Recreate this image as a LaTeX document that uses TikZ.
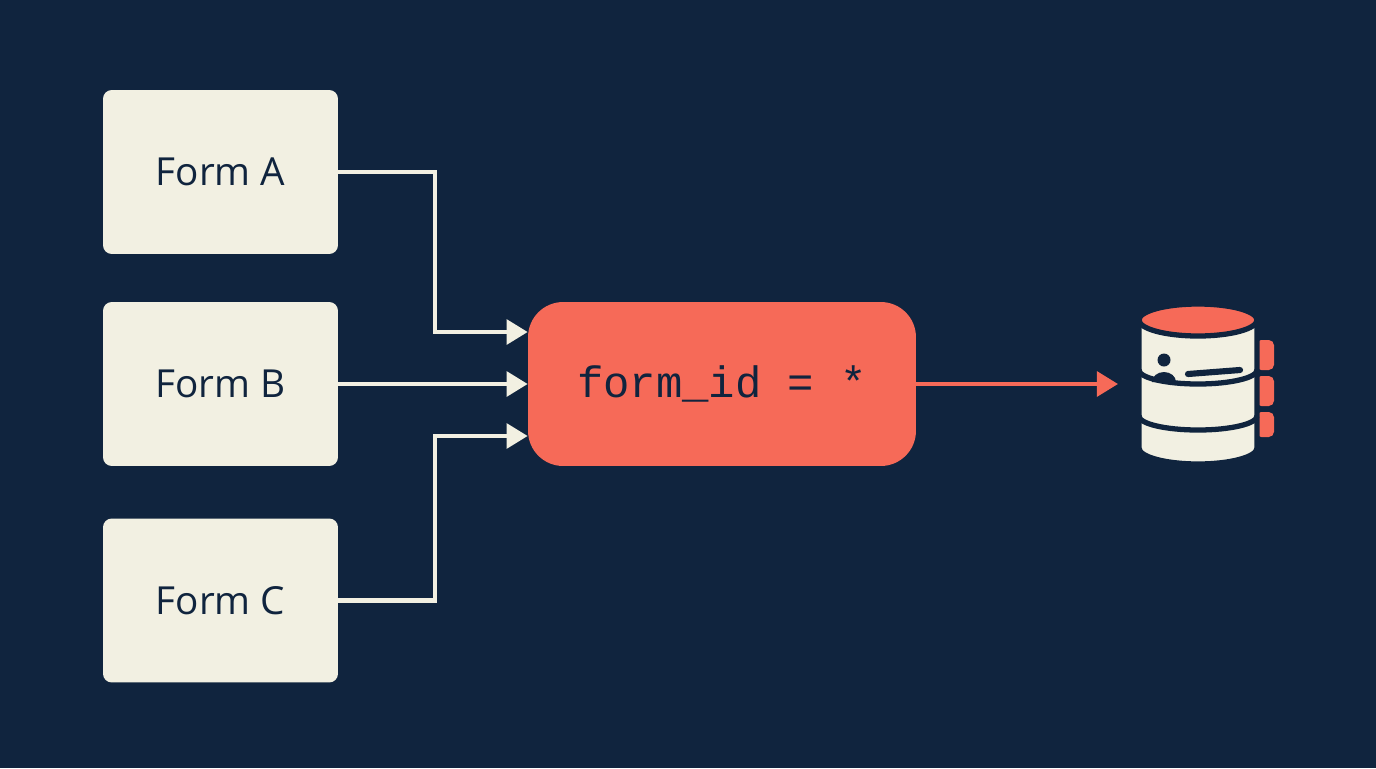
\documentclass[tikz,border=0pt]{standalone}
\usepackage{fontspec}
\setmainfont{Open Sans}
\setmonofont{Liberation Mono}
\usetikzlibrary{arrows.meta}
\definecolor{bgnavy}{RGB}{16, 36, 62}
\definecolor{cream}{RGB}{242, 240, 226}
\definecolor{coral}{RGB}{246, 106, 88}
\tikzset{
  formbox/.style={draw=none, fill=cream, rounded corners=5pt, minimum width=4.7cm, minimum height=3.28cm, text=bgnavy, font=\fontsize{22}{26}\selectfont},
  flow/.style={draw=cream, line width=2.4pt, -{Triangle[length=12pt,width=14pt]}},
  redflow/.style={draw=coral, line width=2.4pt, -{Triangle[length=12pt,width=14pt]}}
}
\begin{document}
\begin{tikzpicture}[x=0.02cm, y=-0.02cm]
\fill[bgnavy] (0,0) rectangle (1376,768);
\useasboundingbox (0,0) rectangle (1376,768);
% Forms
\node[formbox] (fa) at (220.5,172) {Form A};
\node[formbox] (fb) at (220.5,384) {Form B};
\node[formbox] (fc) at (220.5,600.5) {Form C};
% Filter
\node[fill=coral, rounded corners=20pt, minimum width=7.76cm, minimum height=3.28cm, text=bgnavy, font=\ttfamily\fontsize{25}{30}\selectfont] (flt) at (722,384) {form\_id = *};
\coordinate (dbin) at (1118,384);
% Edges
\draw[flow] (fa.east) -- (435,172) |- ([yshift=1.04cm]flt.west);
\draw[flow] (fb.east) -- (flt.west);
\draw[flow] (fc.east) -- (435,600.5) |- ([yshift=-1.04cm]flt.west);
\draw[redflow] (flt.east) -- (dbin);
% Database icon
\begin{scope}[line width=3pt]
\fill[coral, rounded corners=3pt] (1256,340) rectangle (1274,370);
\fill[coral, rounded corners=3pt] (1256,376) rectangle (1274,406);
\fill[coral, rounded corners=3pt] (1256,412) rectangle (1274,437);
\draw[bgnavy, fill=cream] (1139,320) -- (1139,448) arc[start angle=180, end angle=0, x radius=59, y radius=16] -- (1257,320);
\draw[bgnavy, fill=coral] (1198,320) ellipse[x radius=59, y radius=16];
\draw[bgnavy] (1139,370) arc[start angle=180, end angle=0, x radius=59, y radius=14];
\draw[bgnavy] (1139,416) arc[start angle=180, end angle=0, x radius=59, y radius=14];
\fill[bgnavy] (1164,360) circle (6.5);
\fill[bgnavy] (1152,382) arc[start angle=180, end angle=360, x radius=12, y radius=10] -- cycle;
\draw[bgnavy, line cap=round, line width=3.5pt] (1188,374) -- (1240,370);
\end{scope}
\end{tikzpicture}
\end{document}
